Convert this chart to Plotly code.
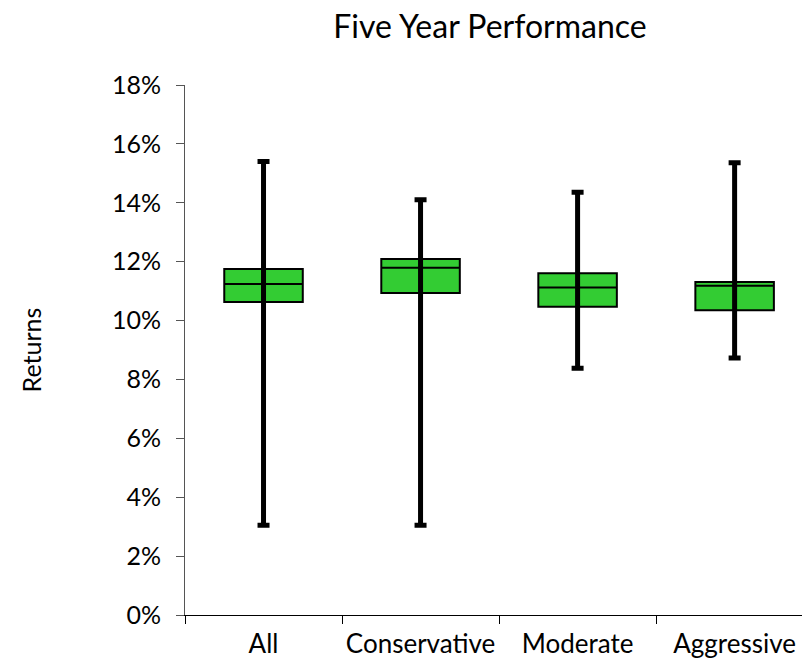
import plotly.graph_objects as go

categories = ["All", "Conservative", "Moderate", "Aggressive"]
low = [3.05, 3.05, 8.38, 8.73]
q1 = [10.63, 10.94, 10.47, 10.35]
median = [11.24, 11.79, 11.12, 11.18]
q3 = [11.75, 12.09, 11.61, 11.31]
high = [15.40, 14.10, 14.36, 15.36]

FONT = "Lato"

fig = go.Figure()
fig.add_trace(go.Box(
    x=categories, q1=q1, median=median, q3=q3,
    lowerfence=q1, upperfence=q3,
    fillcolor="#33CC33", line=dict(color="black", width=2),
    width=0.5, whiskerwidth=0, boxpoints=False, hoverinfo="skip",
))
fig.add_trace(go.Scatter(
    x=categories, y=median, mode="markers",
    marker=dict(size=1, opacity=0),
    error_y=dict(type="data", symmetric=False,
                 array=[h - m for h, m in zip(high, median)],
                 arrayminus=[m - l for m, l in zip(median, low)],
                 color="black", thickness=5, width=6),
    hoverinfo="skip",
))

fig.update_layout(
    width=810, height=665,
    margin=dict(l=177, r=8, t=77, b=58),
    paper_bgcolor="white", plot_bgcolor="white",
    showlegend=False,
    font=dict(family=FONT, color="black", size=25),
    title=dict(text="Five Year Performance", xref="paper", x=0.488, xanchor="center",
               yref="container", y=0.972, yanchor="middle",
               font=dict(size=32, family=FONT)),
)
fig.update_xaxes(
    range=[-0.5, 3.48], showline=True, linecolor="black", linewidth=1,
    ticks="outside", tickson="boundaries", ticklen=8, tickcolor="black",
    showgrid=False, zeroline=False, tickfont=dict(size=26), tickangle=0,
    ticklabelstandoff=6, automargin=False,
)
fig.update_yaxes(
    range=[0, 18], dtick=2, ticksuffix="%", showline=True, linecolor="#555",
    linewidth=1, ticks="outside", ticklen=8, tickcolor="#555",
    showgrid=False, zeroline=False, tickfont=dict(size=25),
    ticklabelstandoff=10, automargin=False,
    title=dict(text="Returns", font=dict(size=25), standoff=63),
)

fig.write_html("out.html")
